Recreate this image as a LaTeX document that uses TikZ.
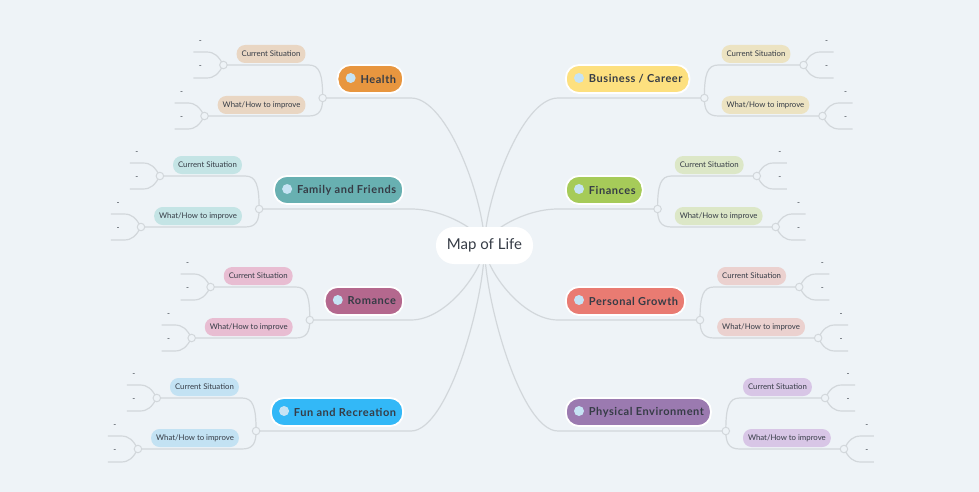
\documentclass[tikz,border=0pt]{standalone}
\usepackage{fontspec}
\setmainfont{Lato}
\usetikzlibrary{calc}
\pgfdeclarelayer{bg}
\pgfdeclarelayer{back}
\pgfsetlayers{back,bg,main}
\definecolor{bgc}{HTML}{EEF3F7}
\definecolor{linec}{HTML}{D2D7DB}
\definecolor{txt}{HTML}{363C46}
\definecolor{iconc}{HTML}{C6E3F4}
\definecolor{healthc}{HTML}{E8963F}
\definecolor{healths}{HTML}{E9D6C3}
\definecolor{busc}{HTML}{FDE07F}
\definecolor{buss}{HTML}{ECE3C2}
\definecolor{famc}{HTML}{68B0B1}
\definecolor{fams}{HTML}{C4E4E5}
\definecolor{finc}{HTML}{A6CB59}
\definecolor{fins}{HTML}{DCE7C7}
\definecolor{romc}{HTML}{B4688E}
\definecolor{roms}{HTML}{E8BDD2}
\definecolor{perc}{HTML}{E97B72}
\definecolor{pers}{HTML}{EBD1CF}
\definecolor{func}{HTML}{33B8F7}
\definecolor{funs}{HTML}{C3E2F3}
\definecolor{phyc}{HTML}{9B7AB0}
\definecolor{phys}{HTML}{D8C6E6}
\tikzset{
  topic/.style={rectangle, rounded corners=13pt, draw=white, line width=1.8pt,
    minimum height=28pt, inner xsep=7pt, inner ysep=0pt,
    font=\fontsize{11}{13}\selectfont\bfseries\addfontfeatures{LetterSpace=5}, text=txt},
  sublabel/.style={rectangle, rounded corners=8.5pt, minimum height=18pt,
    inner xsep=5pt, inner ysep=0pt, font=\fontsize{7.8}{9}\selectfont, text=txt},
  conn/.style={draw=linec, line width=1.2pt},
  junc/.style={circle, draw=linec, line width=1pt, fill=bgc, minimum size=7.5pt, inner sep=0pt},
  leafdash/.style={font=\fontsize{8}{9}\selectfont, text=txt, inner sep=0pt},
  centralbox/.style={rectangle, rounded corners=18pt, fill=white, minimum height=37pt,
    minimum width=97pt, inner xsep=10pt, font=\fontsize{15}{17}\selectfont, text=txt}
}
\newcommand{\leftbranch}[5]{%
  \node[topic, fill=#2, anchor=east] (#1) at (404,#4) {\hspace*{16pt}#5};
  \fill[iconc] ($(#1.west)+(14,-1)$) circle (5pt);
  \coordinate (#1j) at ($(#1.west)+(-14,19)$);
  \node[sublabel, fill=#3, anchor=east] (#1cs) at ($(#1j)+(-17,-44)$) {Current Situation};
  \node[sublabel, fill=#3, anchor=east] (#1w) at ($(#1j)+(-17,7)$) {What/How to improve};
  \coordinate (#1a) at ($(#1cs.west)+(-13,11)$);
  \coordinate (#1b) at ($(#1w.west)+(-13,11)$);
  \coordinate (#1e) at ($(#1.east |- #1j)+(7,0)$);
  \begin{pgfonlayer}{bg}
    \draw[conn] (#1j) -- (#1e) .. controls ($(#1e)!0.5!(mol.center |- #1e)$) and ($(mol.center)!0.3!(mol.center |- #1e)$) .. (mol.center);
    \draw[conn] (#1j) .. controls ($(#1j)+(0,-24)$) and ($(#1j)+(-3,-33)$) .. ($(#1j)+(-14,-33)$) -- (#1a);
    \draw[conn] (#1j) .. controls ($(#1j)+(0,12)$) and ($(#1j)+(-3,18)$) .. ($(#1j)+(-14,18)$) -- (#1b);
    \foreach \q in {a,b}{
      \draw[conn] (#1\q) .. controls ($(#1\q)+(-5,-9)$) and ($(#1\q)+(-9,-13)$) .. ($(#1\q)+(-17,-13)$) -- ($(#1\q)+(-30,-13)$);
      \draw[conn] (#1\q) .. controls ($(#1\q)+(-5,9)$) and ($(#1\q)+(-9,13)$) .. ($(#1\q)+(-17,13)$) -- ($(#1\q)+(-30,13)$);
    }
  \end{pgfonlayer}
  \node[junc] (#1jn) at (#1j) {};
  \node[junc] (#1an) at (#1a) {};
  \node[junc] (#1bn) at (#1b) {};
  \node[leafdash] (#1d1) at ($(#1a)+(-23,-23)$) {-};
  \node[leafdash] (#1d2) at ($(#1a)+(-23,2)$) {-};
  \node[leafdash] (#1d3) at ($(#1b)+(-23,-23)$) {-};
  \node[leafdash] (#1d4) at ($(#1b)+(-23,2)$) {-};
}
\newcommand{\rightbranch}[5]{%
  \node[topic, fill=#2, anchor=west] (#1) at (565,#4) {\hspace*{16pt}#5};
  \fill[iconc] ($(#1.west)+(14,-1)$) circle (5pt);
  \coordinate (#1j) at ($(#1.east)+(14,19)$);
  \node[sublabel, fill=#3, anchor=west] (#1cs) at ($(#1j)+(17,-44)$) {Current Situation};
  \node[sublabel, fill=#3, anchor=west] (#1w) at ($(#1j)+(17,7)$) {What/How to improve};
  \coordinate (#1a) at ($(#1cs.east)+(13,11)$);
  \coordinate (#1b) at ($(#1w.east)+(13,11)$);
  \coordinate (#1e) at ($(#1.west |- #1j)+(-7,0)$);
  \begin{pgfonlayer}{bg}
    \draw[conn] (#1j) -- (#1e) .. controls ($(#1e)!0.5!(mol.center |- #1e)$) and ($(mol.center)!0.3!(mol.center |- #1e)$) .. (mol.center);
    \draw[conn] (#1j) .. controls ($(#1j)+(0,-24)$) and ($(#1j)+(3,-33)$) .. ($(#1j)+(14,-33)$) -- (#1a);
    \draw[conn] (#1j) .. controls ($(#1j)+(0,12)$) and ($(#1j)+(3,18)$) .. ($(#1j)+(14,18)$) -- (#1b);
    \foreach \q in {a,b}{
      \draw[conn] (#1\q) .. controls ($(#1\q)+(5,-9)$) and ($(#1\q)+(9,-13)$) .. ($(#1\q)+(17,-13)$) -- ($(#1\q)+(30,-13)$);
      \draw[conn] (#1\q) .. controls ($(#1\q)+(5,9)$) and ($(#1\q)+(9,13)$) .. ($(#1\q)+(17,13)$) -- ($(#1\q)+(30,13)$);
    }
  \end{pgfonlayer}
  \node[junc] (#1jn) at (#1j) {};
  \node[junc] (#1an) at (#1a) {};
  \node[junc] (#1bn) at (#1b) {};
  \node[leafdash] (#1d1) at ($(#1a)+(23,-23)$) {-};
  \node[leafdash] (#1d2) at ($(#1a)+(23,2)$) {-};
  \node[leafdash] (#1d3) at ($(#1b)+(23,-23)$) {-};
  \node[leafdash] (#1d4) at ($(#1b)+(23,2)$) {-};
}
\begin{document}
\begin{tikzpicture}[x=1pt,y=-1pt]
  \begin{pgfonlayer}{back}
    \fill[bgc] (0,0) rectangle (979,492);
  \end{pgfonlayer}
  \useasboundingbox (0,0) rectangle (979,492);
  \node[centralbox] (mol) at (484.5,245.5) {Map of Life};
  \leftbranch{health}{healthc}{healths}{79}{Health}
  \leftbranch{fam}{famc}{fams}{190}{Family and Friends}
  \leftbranch{rom}{romc}{roms}{301}{Romance}
  \leftbranch{fun}{func}{funs}{412}{Fun and Recreation}
  \rightbranch{bus}{busc}{buss}{79}{Business / Career}
  \rightbranch{fin}{finc}{fins}{190}{Finances}
  \rightbranch{per}{perc}{pers}{301}{Personal Growth}
  \rightbranch{phy}{phyc}{phys}{412}{Physical Environment}
\end{tikzpicture}
\end{document}
